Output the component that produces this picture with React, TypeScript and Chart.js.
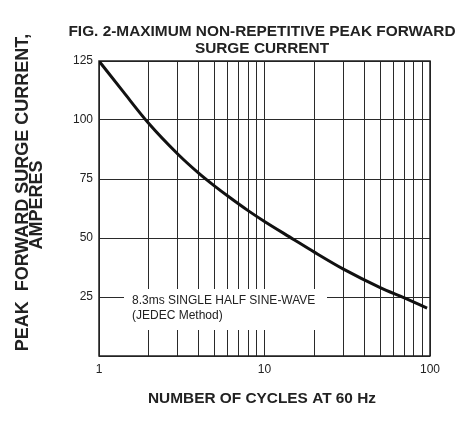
import React, { useEffect, useRef } from "react";
import { Chart, registerables } from "chart.js";

Chart.register(...registerables);

const cycles = [1, 1.4, 2, 3, 4, 5, 6, 8, 10, 15, 20, 30, 50, 70, 96];
const amperes = [125, 112, 98.5, 85.5, 77.5, 72, 67.8, 61.5, 57, 49.4, 44, 36.8, 29, 24.6, 20.3];
const xGridValues = [1, 2, 3, 4, 5, 6, 7, 8, 9, 10, 20, 30, 40, 50, 60, 70, 80, 90, 100];
const xTickLabels = [1, 10, 100];
const yTicks = [25, 50, 75, 100, 125];

const titleLines = ["FIG. 2-MAXIMUM NON-REPETITIVE PEAK FORWARD", "SURGE CURRENT"];
const xTitle = "NUMBER OF CYCLES AT 60 Hz";
const yTitleLines = ["PEAK  FORWARD SURGE CURRENT,", "AMPERES"];
const noteLines = ["8.3ms SINGLE HALF SINE-WAVE", "(JEDEC Method)"];

const FONT = "'Liberation Sans', Arial, sans-serif";

export default function App() {
  const ref = useRef<HTMLCanvasElement | null>(null);

  useEffect(() => {
    document.body.style.margin = "0";
    const canvas = ref.current;
    if (!canvas) return;

    const textPlugin = {
      id: "customTexts",
      beforeDatasetsDraw(chart: any) {
        const { ctx, chartArea } = chart;
        const y = chart.scales.y;
        const y25 = y.getPixelForValue(25);
        ctx.save();
        ctx.fillStyle = "#fff";
        ctx.fillRect(chartArea.left + 25, y25 - 8, 203, 41);
        ctx.strokeStyle = "#222";
        ctx.lineWidth = 1.5;
        ctx.strokeRect(chartArea.left, chartArea.top, chartArea.right - chartArea.left, chartArea.bottom - chartArea.top);
        ctx.fillStyle = "#222";
        ctx.font = `12px ${FONT}`;
        ctx.textAlign = "left";
        ctx.textBaseline = "middle";
        ctx.fillText(noteLines[0], chartArea.left + 33, y25 + 4);
        ctx.fillText(noteLines[1], chartArea.left + 33, y25 + 19);
        ctx.restore();
      },
      afterDraw(chart: any) {
        const { ctx } = chart;
        ctx.save();
        ctx.fillStyle = "#222";
        ctx.textAlign = "center";
        ctx.textBaseline = "middle";
        ctx.font = `bold 15.4px ${FONT}`;
        ctx.fillText(titleLines[0], 262, 32);
        ctx.fillText(titleLines[1], 262, 48.5);
        ctx.fillText(xTitle, 262, 399);
        ctx.font = `bold 18px ${FONT}`;
        ctx.save();
        ctx.translate(23, 192.5);
        ctx.rotate(-Math.PI / 2);
        ctx.fillText(yTitleLines[0], 0, 0);
        ctx.restore();
        ctx.save();
        ctx.translate(37.5, 205);
        ctx.rotate(-Math.PI / 2);
        ctx.fillText(yTitleLines[1], 0, 0);
        ctx.restore();
        ctx.restore();
      },
    };

    const chart = new Chart(canvas, {
      type: "line",
      data: {
        datasets: [
          {
            data: cycles.map((c, i) => ({ x: c, y: amperes[i] })),
            borderColor: "#111",
            borderWidth: 3,
            pointRadius: 0,
            cubicInterpolationMode: "monotone",
            fill: false,
          },
        ],
      },
      options: {
        responsive: false,
        animation: false,
        layout: { padding: { top: 61, right: 41, bottom: 0, left: 0 } },
        plugins: { legend: { display: false }, title: { display: false }, tooltip: { enabled: false } },
        scales: {
          x: {
            type: "logarithmic",
            min: 1,
            max: 100,
            afterBuildTicks: (scale: any) => {
              scale.ticks = xGridValues.map((v) => ({ value: v }));
            },
            afterFit: (scale: any) => {
              scale.height = 67;
            },
            ticks: {
              autoSkip: false,
              maxRotation: 0,
              padding: 6,
              color: "#222",
              font: { family: FONT, size: 12 },
              callback: (v: any) => (xTickLabels.includes(Number(v)) ? String(v) : ""),
            },
            grid: { color: "#2a2a2a", lineWidth: 1, drawTicks: false },
            border: { display: false },
          },
          y: {
            type: "linear",
            min: 0,
            max: 125,
            afterBuildTicks: (scale: any) => {
              scale.ticks = [0, ...yTicks].map((v) => ({ value: v }));
            },
            afterFit: (scale: any) => {
              scale.width = 99;
            },
            ticks: {
              padding: 6,
              color: "#222",
              font: { family: FONT, size: 12 },
              callback: (v: any) => (yTicks.includes(Number(v)) ? String(v) : ""),
            },
            grid: { color: "#2a2a2a", lineWidth: 1, drawTicks: false },
            border: { display: false },
          },
        },
      },
      plugins: [textPlugin],
    } as any);

    return () => chart.destroy();
  }, []);

  return (
    <div style={{ width: 471, height: 423 }}>
      <canvas ref={ref} width={471} height={423} style={{ width: 471, height: 423, display: "block" }} />
    </div>
  );
}
